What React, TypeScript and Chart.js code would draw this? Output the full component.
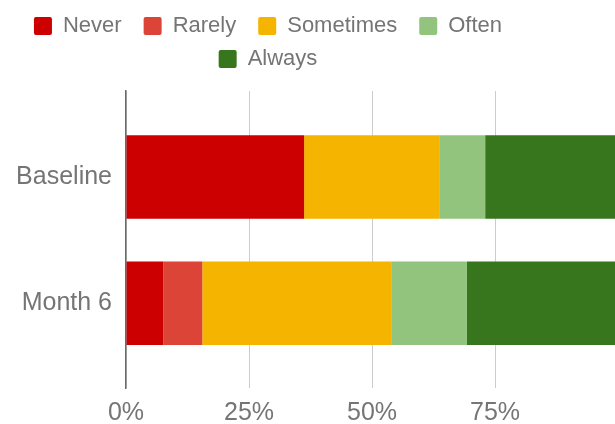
import React, { useEffect, useRef } from 'react';
import { Chart, registerables } from 'chart.js';

Chart.register(...registerables);

// Survey responses, share of participants (%) per time point
const categories = ['Baseline', 'Month 6'];
const responses = ['Never', 'Rarely', 'Sometimes', 'Often', 'Always'];
const neverShare = [36.2, 7.6];
const rarelyShare = [0, 7.9];
const sometimesShare = [27.6, 38.4];
const oftenShare = [9.2, 15.4];
const alwaysShare = [27.0, 30.7];
const responseColors = ['#cc0000', '#db4437', '#f4b400', '#93c47d', '#38761d'];
const percentTicks = [0, 25, 50, 75];

const FONT = "'Liberation Sans', Arial, Helvetica, sans-serif";
const TEXT_COLOR = '#757575';

// Wraps legend rows at a narrower width than the canvas and leaves a gap under the legend.
const legendLayout = {
  id: 'legendLayout',
  afterInit(chart: any, _args: any, opts: any) {
    const legend = chart.legend;
    if (!legend) return;
    const fit = legend.fit;
    legend.fit = function () {
      const fullWidth = this.maxWidth;
      if (opts.maxRowWidth) this.maxWidth = Math.min(fullWidth, opts.maxRowWidth);
      fit.call(this);
      this.maxWidth = fullWidth;
      this.height += opts.marginBottom || 0;
    };
  },
};

export default function App() {
  const canvasRef = useRef<HTMLCanvasElement>(null);

  useEffect(() => {
    const canvas = canvasRef.current;
    if (!canvas) return;
    const shares = [neverShare, rarelyShare, sometimesShare, oftenShare, alwaysShare];

    const chart = new Chart(canvas, {
      type: 'bar',
      data: {
        datasets: responses.map((label, k) => ({
          label,
          data: categories.map((_, i) => ({ x: shares[k][i], y: i + 1 })),
          backgroundColor: responseColors[k],
          borderWidth: 0,
          categoryPercentage: 1,
          barPercentage: 0.66,
        })),
      },
      options: {
        indexAxis: 'y',
        animation: false,
        responsive: false,
        events: [],
        layout: { padding: { top: 4, left: 0, right: 0, bottom: 0 } },
        scales: {
          x: {
            type: 'linear',
            stacked: true,
            min: 0,
            max: 100,
            ticks: {
              stepSize: 25,
              autoSkip: false,
              maxRotation: 0,
              padding: 10,
              color: TEXT_COLOR,
              font: { family: FONT, size: 25 },
              callback: (v: any) => (percentTicks.includes(Number(v)) ? `${v}%` : ''),
            },
            grid: { color: '#cccccc', lineWidth: 1, drawTicks: false },
            border: { display: false },
          },
          y: {
            type: 'linear',
            stacked: true,
            reverse: true,
            offset: false,
            min: 0.32,
            max: 2.67,
            afterBuildTicks: (scale: any) => {
              scale.ticks = categories.map((_, i) => ({ value: i + 1 }));
            },
            afterFit: (scale: any) => {
              scale.width = 207;
            },
            ticks: {
              padding: 14,
              color: TEXT_COLOR,
              font: { family: FONT, size: 25 },
              callback: (v: any) => categories[Number(v) - 1] ?? '',
            },
            grid: { display: false, drawTicks: false, offset: false },
            border: { display: true, color: '#6a6a6a', width: 1.5 },
          },
        },
        plugins: {
          tooltip: { enabled: false },
          legend: {
            position: 'top',
            align: 'center',
            labels: {
              color: TEXT_COLOR,
              font: { family: FONT, size: 22 },
              boxWidth: 18,
              boxHeight: 18,
              padding: 11,
              useBorderRadius: true,
              borderRadius: 2,
              generateLabels: (c: any) =>
                Chart.defaults.plugins.legend.labels
                  .generateLabels(c)
                  .map((item: any) => ({ ...item, text: item.text + '\u2002' })),
            },
          },
          legendLayout: { maxRowWidth: 560, marginBottom: 11 },
        } as any,
      },
      plugins: [legendLayout],
    } as any);

    return () => chart.destroy();
  }, []);

  return (
    <div
      style={{
        position: 'fixed',
        left: 0,
        top: 0,
        width: 615,
        height: 424,
        overflow: 'hidden',
        background: '#ffffff',
      }}
    >
      <canvas
        ref={canvasRef}
        width={709}
        height={438}
        style={{ position: 'absolute', left: -81, top: 0, width: 709, height: 438 }}
      />
    </div>
  );
}
